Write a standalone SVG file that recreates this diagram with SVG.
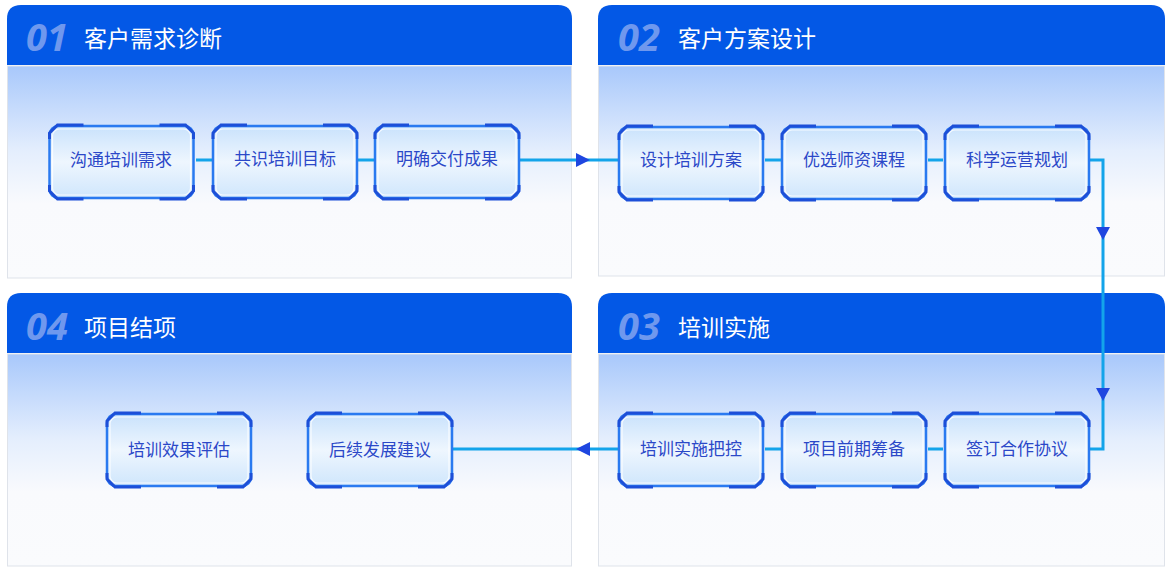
<svg xmlns="http://www.w3.org/2000/svg" width="1170" height="578" viewBox="0 0 1170 578">
<style>
.hd{fill:#0358e6}
.bd{fill:url(#bg);stroke:#dfe3ea;stroke-width:1}
.num{font-family:"Open Sans","Liberation Sans",sans-serif;font-style:italic;font-weight:700;font-size:38px;fill:#6f98ee}
.tt{font-family:"Noto Sans CJK SC",sans-serif;font-size:23px;fill:#fff}
.nb{fill:url(#nf);stroke:#2a7af0;stroke-width:2.5}
.ni{fill:none;stroke:#ffffff;stroke-width:1.2;opacity:.8}
.br{fill:none;stroke:#1d4fd8;stroke-width:3}
.nt{font-family:"Noto Sans CJK SC",sans-serif;font-size:17px;fill:#2b48c8;text-anchor:middle}
.ln{fill:none;stroke:#13a4ea;stroke-width:3}
.ar{fill:#1f46e0}
</style>
<defs>
<linearGradient id="bg" x1="0" y1="0" x2="0" y2="1">
<stop offset="0" stop-color="#a8c8fb"/><stop offset="0.4" stop-color="#e4eefd"/><stop offset="0.65" stop-color="#f9fafd"/><stop offset="1" stop-color="#fafbfd"/>
</linearGradient>
<linearGradient id="nf" x1="0" y1="0" x2="0" y2="1">
<stop offset="0" stop-color="#c9e2fc"/><stop offset="0.5" stop-color="#eef6fe"/><stop offset="1" stop-color="#cfe6fc"/>
</linearGradient>
<symbol id="node" viewBox="0 0 148 78" overflow="visible">
<rect class="nb" x="2" y="3" width="144" height="72" rx="9"/>
<rect class="ni" x="5" y="6" width="138" height="66" rx="7"/>
<path class="br" d="M2 16 V10 L10 2 H36 M112 2 H138 L146 10 V16 M146 62 V68 L138 76 H112 M36 76 H10 L2 68 V62"/>
</symbol>
</defs>
<g id="panel1">
<path class="hd" d="M7 65 V19 Q7 5 21 5 H558 Q572 5 572 19 V65 Z"/>
<rect class="bd" x="7.5" y="66" width="564" height="212"/>
<text class="num" x="26" y="51">01</text><text class="tt" x="84" y="47">客户需求诊断</text>
</g>
<g id="panel2">
<path class="hd" d="M598 65 V19 Q598 5 612 5 H1151 Q1165 5 1165 19 V65 Z"/>
<rect class="bd" x="598.5" y="66" width="566" height="210"/>
<text class="num" x="618" y="51">02</text><text class="tt" x="678" y="47">客户方案设计</text>
</g>
<g id="panel3">
<path class="hd" d="M598 353 V307 Q598 293 612 293 H1151 Q1165 293 1165 307 V353 Z"/>
<rect class="bd" x="598.5" y="354" width="566" height="212"/>
<text class="num" x="618" y="340">03</text><text class="tt" x="678" y="336">培训实施</text>
</g>
<g id="panel4">
<path class="hd" d="M7 353 V307 Q7 293 21 293 H558 Q572 293 572 307 V353 Z"/>
<rect class="bd" x="7.5" y="354" width="564" height="212"/>
<text class="num" x="26" y="340">04</text><text class="tt" x="84" y="336">项目结项</text>
</g>
<g id="connectors">
<path class="ln" d="M196 160 H212 M358 160 H374 M520 160 H618 M765 160 H781 M928 160 H943 M1090 160 H1103 V449 H1090 M943 449 H928 M781 449 H765 M618 449 H453"/>
<path class="ar" d="M576 153 L590 160 L576 167 Z"/>
<path class="ar" d="M1096 227 L1110 227 L1103 240 Z"/>
<path class="ar" d="M1096 388 L1110 388 L1103 401 Z"/>
<path class="ar" d="M590 442 L576 449 L590 456 Z"/>
</g>
<g id="n1"><use href="#node" x="47" y="123" width="149" height="78"/><text class="nt" x="121" y="166">沟通培训需求</text></g>
<g id="n2"><use href="#node" x="211" y="123" width="148" height="78"/><text class="nt" x="285" y="165">共识培训目标</text></g>
<g id="n3"><use href="#node" x="373" y="123" width="148" height="78"/><text class="nt" x="447" y="165">明确交付成果</text></g>
<g id="n4"><use href="#node" x="617" y="124" width="148" height="78"/><text class="nt" x="691" y="166">设计培训方案</text></g>
<g id="n5"><use href="#node" x="780" y="124" width="148" height="78"/><text class="nt" x="854" y="166">优选师资课程</text></g>
<g id="n6"><use href="#node" x="943" y="124" width="148" height="78"/><text class="nt" x="1017" y="166">科学运营规划</text></g>
<g id="n7"><use href="#node" x="943" y="411" width="148" height="78"/><text class="nt" x="1017" y="455">签订合作协议</text></g>
<g id="n8"><use href="#node" x="780" y="411" width="148" height="78"/><text class="nt" x="854" y="455">项目前期筹备</text></g>
<g id="n9"><use href="#node" x="617" y="411" width="148" height="78"/><text class="nt" x="691" y="455">培训实施把控</text></g>
<g id="n10"><use href="#node" x="306" y="411" width="148" height="78"/><text class="nt" x="380" y="456">后续发展建议</text></g>
<g id="n11"><use href="#node" x="105" y="411" width="148" height="78"/><text class="nt" x="179" y="456">培训效果评估</text></g>
</svg>
